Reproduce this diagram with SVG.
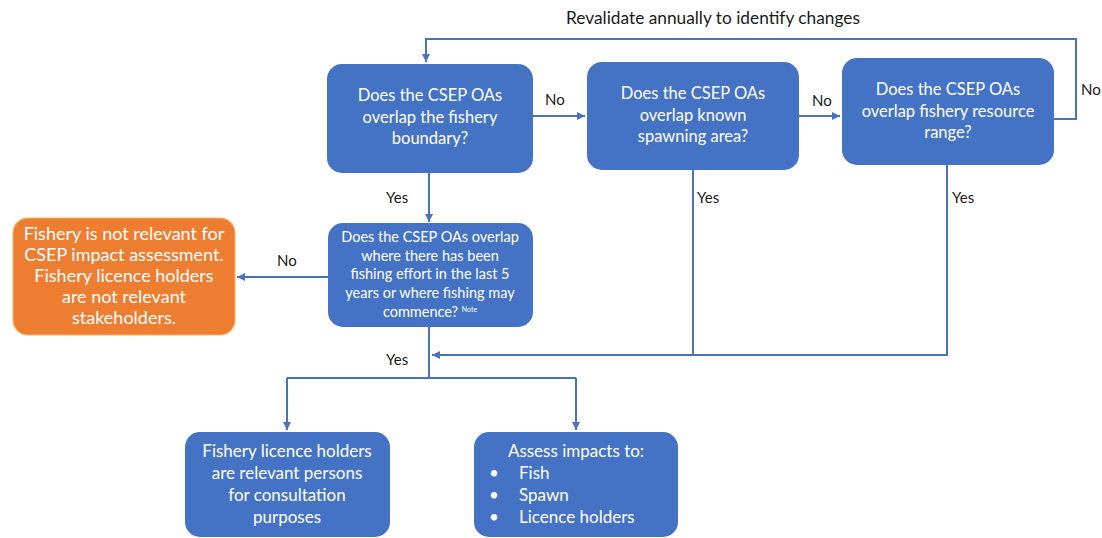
<svg xmlns="http://www.w3.org/2000/svg" width="1102" height="538" viewBox="0 0 1102 538">
  <style>
    .box { fill: #4472C4; }
    .warn { fill: #ED7D31; stroke: #F6B26B; stroke-width: 1.2; }
    .bt { font-family: Lato, "Open Sans", "Liberation Sans", sans-serif; fill: #FFFFFF; text-anchor: middle; }
    .lg { font-size: 16.5px; }
    .lw { font-size: 17px; }
    .xl { font-size: 18px; }
    .md { font-size: 14.5px; }
    .lbl { font-family: Lato, "Open Sans", "Liberation Sans", sans-serif; font-size: 15px; fill: #1a1a1a; }
    .title { font-size: 17.3px; text-anchor: middle; }
    .conn { fill: none; stroke: #4A72B8; stroke-width: 2; }
  </style>
  <defs>
    <marker id="arrow" markerUnits="userSpaceOnUse" markerWidth="9" markerHeight="9" refX="8" refY="4" orient="auto">
      <path d="M0,0 L8,4 L0,8 z" fill="#4A72B8"/>
    </marker>
  </defs>
  <rect width="1102" height="538" fill="#FFFFFF"/>

  <!-- connectors and their labels -->
  <g id="connectors">
    <path class="conn" d="M1054,119 H1076 V39 H426 V62" marker-end="url(#arrow)"/>
    <path class="conn" d="M533,116 H585" marker-end="url(#arrow)"/>
    <path class="conn" d="M799,116 H840" marker-end="url(#arrow)"/>
    <path class="conn" d="M429,173 V222" marker-end="url(#arrow)"/>
    <path class="conn" d="M328,277 H237" marker-end="url(#arrow)"/>
    <path class="conn" d="M429,327 V378"/>
    <path class="conn" d="M947,165 V355 H432" marker-end="url(#arrow)"/>
    <path class="conn" d="M693,170 V355 H627"/>
    <path class="conn" d="M287,378 H576"/>
    <path class="conn" d="M287,378 V430" marker-end="url(#arrow)"/>
    <path class="conn" d="M576,378 V430" marker-end="url(#arrow)"/>
    <text class="lbl title" x="713" y="24">Revalidate annually to identify changes</text>
    <text class="lbl" x="545" y="105">No</text>
    <text class="lbl" x="812" y="106">No</text>
    <text class="lbl" x="1081" y="95">No</text>
    <text class="lbl" x="277" y="266">No</text>
    <text class="lbl" x="386" y="203">Yes</text>
    <text class="lbl" x="697" y="203">Yes</text>
    <text class="lbl" x="952" y="203">Yes</text>
    <text class="lbl" x="386" y="365">Yes</text>
  </g>

  <g id="boundary-check">
    <rect class="box" x="327" y="64" width="206" height="109" rx="15"/>
    <text class="bt lg"><tspan x="430" y="101">Does the CSEP OAs</tspan><tspan x="430" y="123">overlap the fishery</tspan><tspan x="430" y="144">boundary?</tspan></text>
  </g>

  <g id="spawning-check">
    <rect class="box" x="587" y="62" width="212" height="108" rx="15"/>
    <text class="bt lg"><tspan x="693" y="99">Does the CSEP OAs</tspan><tspan x="693" y="121">overlap known</tspan><tspan x="693" y="142">spawning area?</tspan></text>
  </g>

  <g id="range-check">
    <rect class="box" x="842" y="58" width="212" height="107" rx="15"/>
    <text class="bt lg"><tspan x="948" y="95">Does the CSEP OAs</tspan><tspan x="948" y="117">overlap fishery resource</tspan><tspan x="948" y="138">range?</tspan></text>
  </g>

  <g id="effort-check">
    <rect class="box" x="328" y="223" width="205" height="104" rx="15"/>
    <text class="bt md"><tspan x="430" y="242">Does the CSEP OAs overlap</tspan><tspan x="430" y="261">where there has been</tspan><tspan x="430" y="279">fishing effort in the last 5</tspan><tspan x="430" y="298">years or where fishing may</tspan><tspan x="430" y="317">commence? <tspan font-size="7" dy="-5">Note</tspan></tspan></text>
  </g>

  <g id="not-relevant">
    <rect class="warn" x="13" y="218" width="222" height="117" rx="15"/>
    <text class="bt xl"><tspan x="124" y="240">Fishery is not relevant for</tspan><tspan x="124" y="261">CSEP impact assessment.</tspan><tspan x="124" y="282">Fishery licence holders</tspan><tspan x="124" y="303">are not relevant</tspan><tspan x="124" y="324">stakeholders.</tspan></text>
  </g>

  <g id="relevant-persons">
    <rect class="box" x="185" y="432" width="205" height="105" rx="15"/>
    <text class="bt lw"><tspan x="287" y="457">Fishery licence holders</tspan><tspan x="287" y="479">are relevant persons</tspan><tspan x="287" y="501">for consultation</tspan><tspan x="287" y="523">purposes</tspan></text>
  </g>

  <g id="assess-impacts">
    <rect class="box" x="474" y="432" width="204" height="105" rx="15"/>
    <text class="bt lw" x="576" y="457">Assess impacts to:</text>
    <g class="bt lw">
      <text x="489" y="479" text-anchor="start">•</text>
      <text x="519" y="479" text-anchor="start">Fish</text>
      <text x="489" y="501" text-anchor="start">•</text>
      <text x="519" y="501" text-anchor="start">Spawn</text>
      <text x="489" y="523" text-anchor="start">•</text>
      <text x="519" y="523" text-anchor="start">Licence holders</text>
    </g>
  </g>
</svg>
